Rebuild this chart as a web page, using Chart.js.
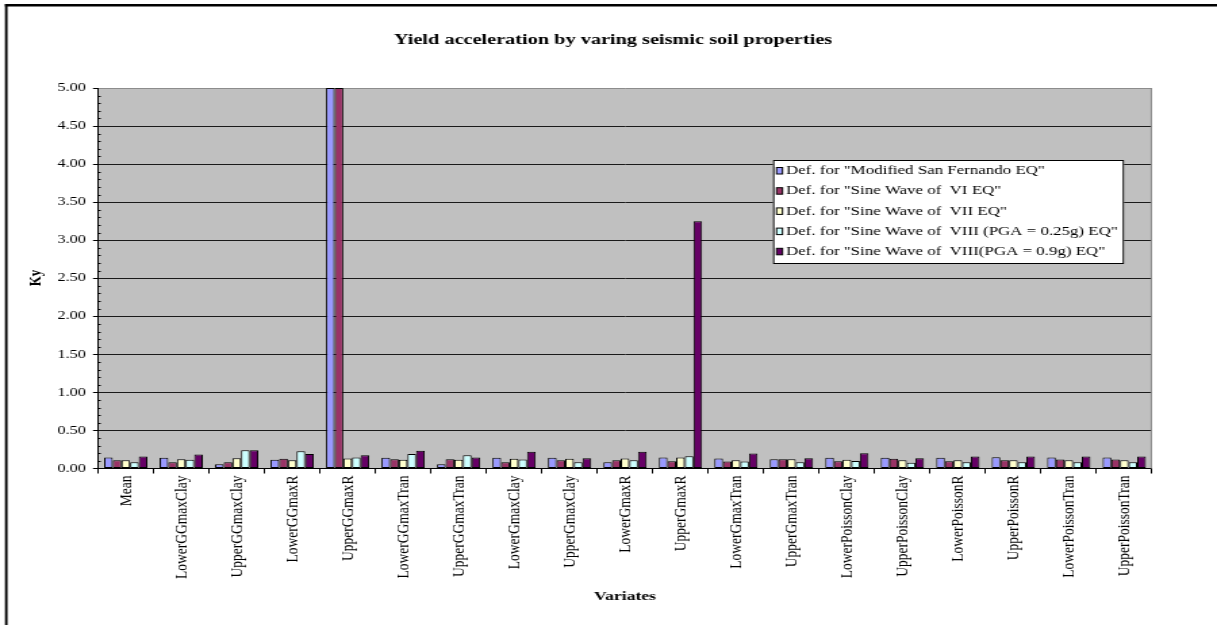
<!DOCTYPE html>
<html>
<head>
<meta charset="utf-8">
<script src="https://cdn.jsdelivr.net/npm/chart.js@4.4.1/dist/chart.umd.min.js"></script>
<style>
  html, body { margin: 0; padding: 0; background: #fff; overflow: hidden; }
  #chart { display: block; transform-origin: 0 0; }
</style>
</head>
<body>
<canvas id="chart" width="900" height="625"></canvas>
<script>
// drawn on a narrow canvas and widened with CSS, like the old spreadsheet export
const STRETCH = 1217 / 900

const variates = [
  "Mean", "LowerGGmaxClay", "UpperGGmaxClay", "LowerGGmaxR", "UpperGGmaxR",
  "LowerGGmaxTran", "UpperGGmaxTran", "LowerGmaxClay", "UpperGmaxClay", "LowerGmaxR",
  "UpperGmaxR", "LowerGmaxTran", "UpperGmaxTran", "LowerPoissonClay", "UpperPoissonClay",
  "LowerPoissonR", "UpperPoissonR", "LowerPoissonTran", "UpperPoissonTran"
]

const seriesNames = [
  'Def. for "Modified San Fernando EQ"',
  'Def. for "Sine Wave of  VI EQ"',
  'Def. for "Sine Wave of  VII EQ"',
  'Def. for "Sine Wave of  VIII (PGA = 0.25g) EQ"',
  'Def. for "Sine Wave of  VIII(PGA = 0.9g) EQ"'
]

const sanFernando = [0.145, 0.14, 0.057, 0.114, 5.0, 0.14, 0.057, 0.14, 0.14, 0.083, 0.145, 0.13, 0.123, 0.14, 0.14, 0.14, 0.149, 0.145, 0.145]
const sineVI      = [0.11, 0.083, 0.083, 0.127, 5.0, 0.123, 0.123, 0.083, 0.11, 0.11, 0.096, 0.092, 0.123, 0.096, 0.127, 0.096, 0.11, 0.118, 0.118]
const sineVII     = [0.11, 0.123, 0.136, 0.11, 0.13, 0.114, 0.114, 0.127, 0.127, 0.13, 0.145, 0.11, 0.123, 0.114, 0.11, 0.11, 0.11, 0.11, 0.11]
const sineVIII025 = [0.083, 0.114, 0.241, 0.228, 0.145, 0.189, 0.175, 0.118, 0.083, 0.11, 0.162, 0.092, 0.083, 0.1, 0.075, 0.083, 0.083, 0.083, 0.083]
const sineVIII09  = [0.158, 0.184, 0.241, 0.189, 0.175, 0.232, 0.145, 0.219, 0.136, 0.219, 3.25, 0.197, 0.136, 0.2, 0.136, 0.158, 0.158, 0.158, 0.158]

const yTicks = [0, 0.5, 1, 1.5, 2, 2.5, 3, 3.5, 4, 4.5, 5]

const colors = ["#9999FF", "#993366", "#FFFFCC", "#CCFFFF", "#660066"]
const serif = "'Liberation Serif', 'Times New Roman', serif"

const canvas = document.getElementById("chart")
canvas.style.transform = `scaleX(${STRETCH})`

const sx = (x) => x / STRETCH

const excelFrame = {
  id: "excelFrame",
  beforeDraw(chart) {
    const { ctx, chartArea: a } = chart
    ctx.save()
    ctx.fillStyle = "#fff"
    ctx.fillRect(0, 0, chart.width, chart.height)
    // outer frame (only left and top edges fall inside the page)
    ctx.fillStyle = "#000"
    ctx.fillRect(sx(5), 4, sx(2.5), chart.height)
    ctx.fillRect(sx(5), 4, chart.width, 2.5)
    ctx.fillStyle = "#C0C0C0"
    ctx.fillRect(a.left, a.top, a.right - a.left, a.bottom - a.top)
    ctx.restore()
  },
  afterDraw(chart) {
    const { ctx, chartArea: a } = chart
    const y = chart.scales.y
    ctx.save()

    // right edge of plot area
    ctx.strokeStyle = "#8c8c8c"
    ctx.lineWidth = 1
    ctx.beginPath()
    ctx.moveTo(a.right - 0.5, a.top)
    ctx.lineTo(a.right - 0.5, a.bottom)
    ctx.stroke()

    // minor ticks every 0.1
    ctx.strokeStyle = "#000"
    ctx.beginPath()
    for (let i = 1; i < 50; i++) {
      if (i % 5 === 0) continue
      const py = Math.round(y.getPixelForValue(i / 10)) + 0.5
      ctx.moveTo(a.left, py)
      ctx.lineTo(a.left + 2, py)
    }
    ctx.stroke()

    // titles
    ctx.fillStyle = "#000"
    ctx.textAlign = "center"
    ctx.textBaseline = "middle"
    ctx.font = `bold 15px ${serif}`
    ctx.fillText("Yield acceleration by varing seismic soil properties", sx(613), 40)
    ctx.font = `bold 13px ${serif}`
    ctx.fillText("Variates", sx(625), 597)
    ctx.save()
    ctx.translate(sx(36), 278)
    ctx.rotate(-Math.PI / 2)
    ctx.fillText("Ky", 0, 0)
    ctx.restore()

    // legend box
    const lx = sx(773), ly = 160, lw = sx(1124) - sx(773), lh = 104
    ctx.fillStyle = "#fff"
    ctx.fillRect(lx, ly, lw, lh)
    ctx.strokeStyle = "#000"
    ctx.lineWidth = 1
    ctx.strokeRect(lx + 0.5, ly + 0.5, lw - 1, lh - 1)
    ctx.font = `12.5px ${serif}`
    ctx.textAlign = "left"
    chart.data.datasets.forEach((ds, i) => {
      const cy = 170.5 + i * 20.2
      ctx.fillStyle = ds.backgroundColor
      ctx.fillRect(sx(776.5), cy - 3, sx(6), 6.5)
      ctx.strokeRect(sx(776.5), cy - 3, sx(6), 6.5)
      ctx.fillStyle = "#000"
      ctx.fillText(ds.label, sx(786), cy + 0.5)
    })
    ctx.restore()
  }
}

new Chart(canvas, {
  type: "bar",
  data: {
    labels: variates,
    datasets: [sanFernando, sineVI, sineVII, sineVIII025, sineVIII09].map((values, i) => ({
      label: seriesNames[i],
      data: values,
      backgroundColor: colors[i],
      borderColor: "#000",
      borderWidth: 1,
      borderSkipped: false,
      categoryPercentage: 0.78,
      barPercentage: 1.0
    }))
  },
  options: {
    responsive: false,
    animation: false,
    devicePixelRatio: 1,
    layout: { padding: { left: 0, top: 88, right: 900 - sx(1152), bottom: 0 } },
    plugins: {
      legend: { display: false },
      title: { display: false },
      tooltip: { enabled: false }
    },
    scales: {
      x: {
        afterFit: (scale) => { scale.height = 625 - 468.5 },
        grid: {
          offset: true,
          drawOnChartArea: false,
          tickLength: 5,
          tickColor: "#000"
        },
        border: { color: "#000", width: 1 },
        ticks: {
          autoSkip: false,
          minRotation: 90,
          maxRotation: 90,
          padding: 2,
          color: "#000",
          font: { family: serif, size: 13.5 }
        }
      },
      y: {
        min: 0,
        max: 5,
        afterFit: (scale) => { scale.width = sx(98) },
        afterBuildTicks: (scale) => { scale.ticks = yTicks.map(v => ({ value: v })) },
        grid: {
          color: (ctx) => ctx.tick && ctx.tick.value === 5 ? "#8c8c8c" : "#1a1a1a",
          tickColor: "#000",
          tickLength: sx(5)
        },
        border: { color: "#000", width: 1 },
        ticks: {
          padding: sx(7),
          color: "#000",
          font: { family: serif, size: 12 },
          callback: (v) => Number(v).toFixed(2)
        }
      }
    }
  },
  plugins: [excelFrame]
})
</script>
</body>
</html>
